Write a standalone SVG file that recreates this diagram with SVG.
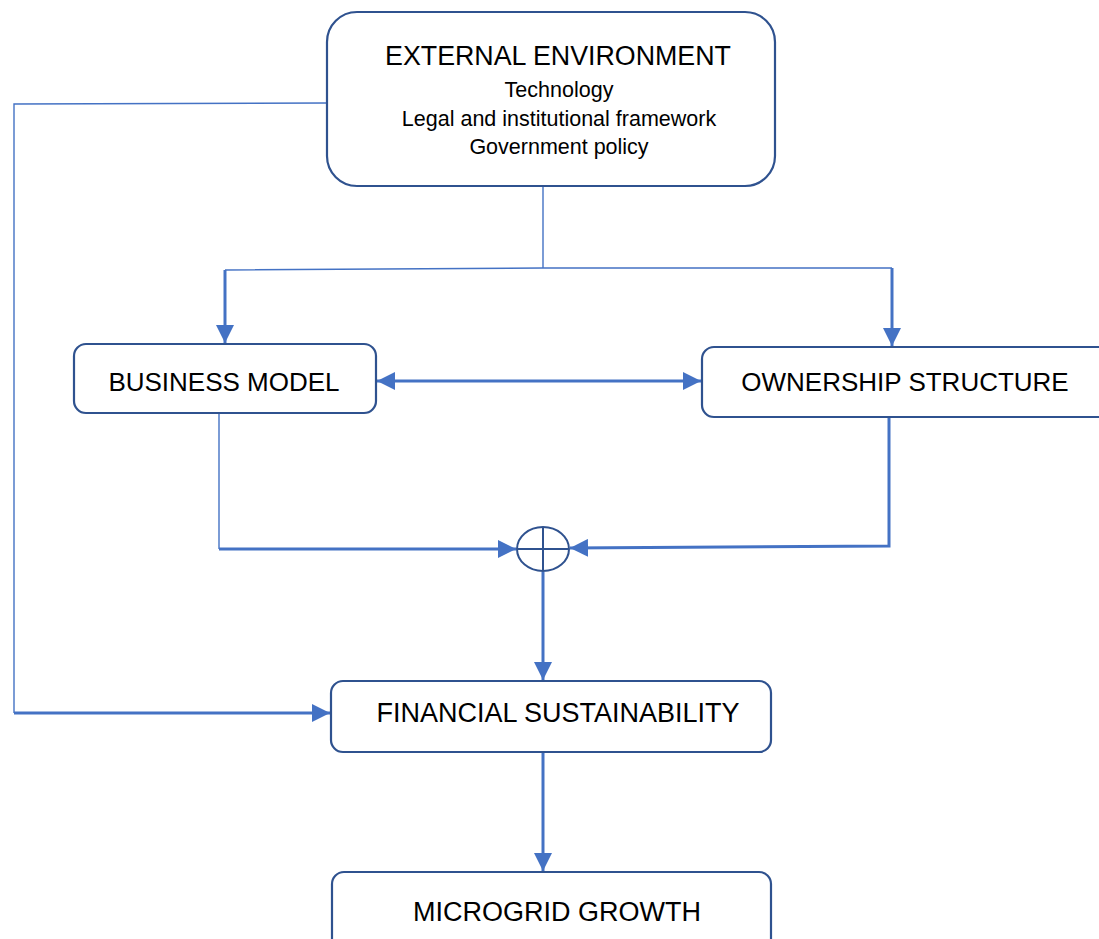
<svg xmlns="http://www.w3.org/2000/svg" width="1099" height="939" viewBox="0 0 1099 939">
<defs>
<style>
.box{fill:#fff;stroke:#2F528F;stroke-width:2.2}
.t{font-family:"Liberation Sans",Arial,sans-serif;fill:#000;text-anchor:middle}
.h{font-size:26px}
.s{font-size:21.5px}
.thin{fill:none;stroke:#4472C4;stroke-width:1.4}
.thick{fill:none;stroke:#4472C4;stroke-width:3}
</style>
<marker id="ah" markerWidth="6" markerHeight="6" refX="6" refY="3" orient="auto" markerUnits="strokeWidth">
<path d="M0,0 L6,3 L0,6 z" fill="#4472C4"/>
</marker>
<marker id="ahs" markerWidth="6" markerHeight="6" refX="0" refY="3" orient="auto" markerUnits="strokeWidth">
<path d="M6,0 L0,3 L6,6 z" fill="#4472C4"/>
</marker>
</defs>
<g id="connectors">
<polyline class="thin" points="327,103 14,104 14,713"/>
<polyline class="thick" points="14,713 330,713" marker-end="url(#ah)"/>
<line class="thin" x1="543" y1="186" x2="543" y2="268"/>
<polyline class="thin" points="225,270 543,268 892,268"/>
<line class="thick" x1="225" y1="270" x2="225" y2="343" marker-end="url(#ah)"/>
<line class="thick" x1="892" y1="268" x2="892" y2="346" marker-end="url(#ah)"/>
<line class="thick" x1="377" y1="381" x2="701" y2="381" marker-start="url(#ahs)" marker-end="url(#ah)"/>
<polyline class="thin" points="219,413 219,549"/>
<line class="thick" x1="219" y1="549" x2="516" y2="549" marker-end="url(#ah)"/>
<polyline class="thick" points="889,417 889,546 570,548" marker-end="url(#ah)"/>
<line class="thick" x1="543" y1="572" x2="543" y2="680" marker-end="url(#ah)"/>
<line class="thick" x1="543" y1="752" x2="543" y2="871" marker-end="url(#ah)"/>
</g>
<g id="external">
<rect class="box" x="327" y="12" width="448" height="174" rx="30"/>
<text class="t" x="558" y="65" font-size="26.8">EXTERNAL ENVIRONMENT</text>
<text class="t s" x="559" y="97">Technology</text>
<text class="t s" x="559" y="126">Legal and institutional framework</text>
<text class="t s" x="559" y="154">Government policy</text>
</g>
<g id="business">
<rect class="box" x="74" y="344" width="302" height="69" rx="12"/>
<text class="t h" x="224" y="391">BUSINESS MODEL</text>
</g>
<g id="ownership">
<rect class="box" x="702" y="347" width="410" height="70" rx="12"/>
<text class="t h" x="905" y="391">OWNERSHIP STRUCTURE</text>
</g>
<g id="sum">
<ellipse cx="543" cy="549" rx="26" ry="22" fill="#fff" stroke="#2F528F" stroke-width="2"/>
<line x1="543" y1="527" x2="543" y2="571" stroke="#2F528F" stroke-width="2"/>
<line x1="517" y1="549" x2="569" y2="549" stroke="#2F528F" stroke-width="2"/>
</g>
<g id="financial">
<rect class="box" x="331" y="681" width="440" height="71" rx="12"/>
<text class="t" x="558" y="722" font-size="27">FINANCIAL SUSTAINABILITY</text>
</g>
<g id="microgrid">
<rect class="box" x="332" y="872" width="439" height="90" rx="12"/>
<text class="t" x="557" y="921" font-size="27">MICROGRID GROWTH</text>
</g>
</svg>
